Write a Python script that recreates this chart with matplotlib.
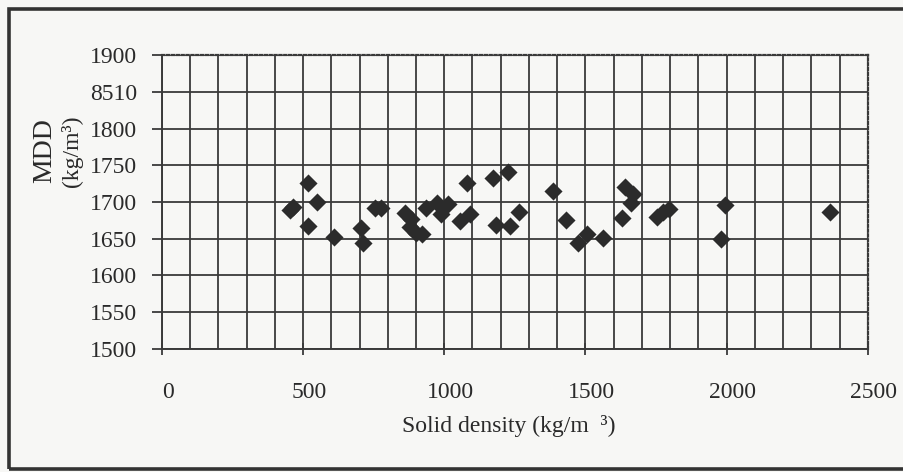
import numpy as np
import matplotlib
matplotlib.use("Agg")
import matplotlib.pyplot as plt
import matplotlib.transforms as mtransforms
from matplotlib.ticker import MultipleLocator, FixedLocator, FixedFormatter

plt.rcParams['font.family'] = ['Liberation Serif', 'DejaVu Serif']

# solid density (kg/m3) vs MDD (kg/m3)
solid_density = [455, 465, 516, 549, 516, 608, 704, 711, 755, 775,
                 860, 883, 878, 901, 923, 935, 976, 990, 1012, 1079,
                 1092, 1056, 1174, 1226, 1265, 1183, 1233, 1386, 1431, 1474,
                 1506, 1562, 1641, 1667, 1661, 1628, 1755, 1775, 1795, 1994,
                 1980, 2365]
mdd = [1689, 1693, 1726, 1700, 1667, 1653, 1664, 1644, 1692, 1692,
       1685, 1677, 1666, 1658, 1656, 1692, 1698, 1684, 1697, 1726,
       1683, 1674, 1733, 1741, 1686, 1669, 1667, 1715, 1675, 1644,
       1656, 1651, 1721, 1711, 1699, 1678, 1680, 1686, 1691, 1696,
       1649, 1687]

x_ticks = [0, 500, 1000, 1500, 2000, 2500]
y_ticks = [1500, 1550, 1600, 1650, 1700, 1750, 1800, 1850, 1900]
y_tick_labels = ['1500', '1550', '1600', '1650', '1700', '1750', '1800', '8510', '1900']

ink = '#2a2a2a'
paper = '#f7f7f5'

fig = plt.figure(figsize=(9.04, 4.72), dpi=100, facecolor=paper)
ax = fig.add_axes([0.179, 0.261, 0.781, 0.622], facecolor=paper)

ax.scatter(solid_density, mdd, marker='D', s=85, color='#2b2b2b', zorder=3, linewidths=0)

ax.set_xlim(0, 2500)
ax.set_ylim(1500, 1900)
ax.xaxis.set_major_locator(FixedLocator(x_ticks))
ax.xaxis.set_minor_locator(MultipleLocator(100))
ax.yaxis.set_major_locator(FixedLocator(y_ticks))
ax.yaxis.set_major_formatter(FixedFormatter(y_tick_labels))

ax.grid(True, axis='x', which='both', color='#3a3a3a', lw=1.3)
ax.grid(True, axis='y', which='major', color='#3a3a3a', lw=1.3)
ax.set_axisbelow(True)

for s in ['left', 'bottom']:
    ax.spines[s].set_color('#3a3a3a')
    ax.spines[s].set_linewidth(1.4)
for s in ['top', 'right']:
    ax.spines[s].set_color('#3a3a3a')
    ax.spines[s].set_linewidth(1.6)
    ax.spines[s].set_linestyle((0, (1, 1.2)))

ax.tick_params(axis='x', which='major', direction='inout', length=8, width=1.3,
               color='#3a3a3a', labelsize=17, labelcolor=ink, pad=20)
ax.tick_params(axis='x', which='minor', length=0)
ax.tick_params(axis='y', direction='out', length=7, width=1.3,
               color='#3a3a3a', labelsize=17, labelcolor=ink, pad=11)

# x labels sit a little right of their ticks in the scan
shift = mtransforms.ScaledTranslation(6 / 100, 0, fig.dpi_scale_trans)
for lab in ax.get_xticklabels():
    lab.set_transform(lab.get_transform() + shift)

fig.text(0.563, 0.098, 'Solid density (kg/m  \u00b3)', ha='center', va='center',
         fontsize=17, color=ink)
fig.text(0.050, 0.68, 'MDD', rotation=90, ha='center', va='center',
         fontsize=20, color=ink)
fig.text(0.080, 0.68, '(kg/m\u00b3)', rotation=90, ha='center', va='center',
         fontsize=17, color=ink)

# outer frame of the scanned page
frame = plt.Rectangle((0.010, 0.006), 1.2, 0.974, transform=fig.transFigure,
                      fill=False, edgecolor='#333333', lw=2.6, clip_on=False)
fig.patches.append(frame)

fig.savefig('out.png', dpi=100, facecolor=paper)
